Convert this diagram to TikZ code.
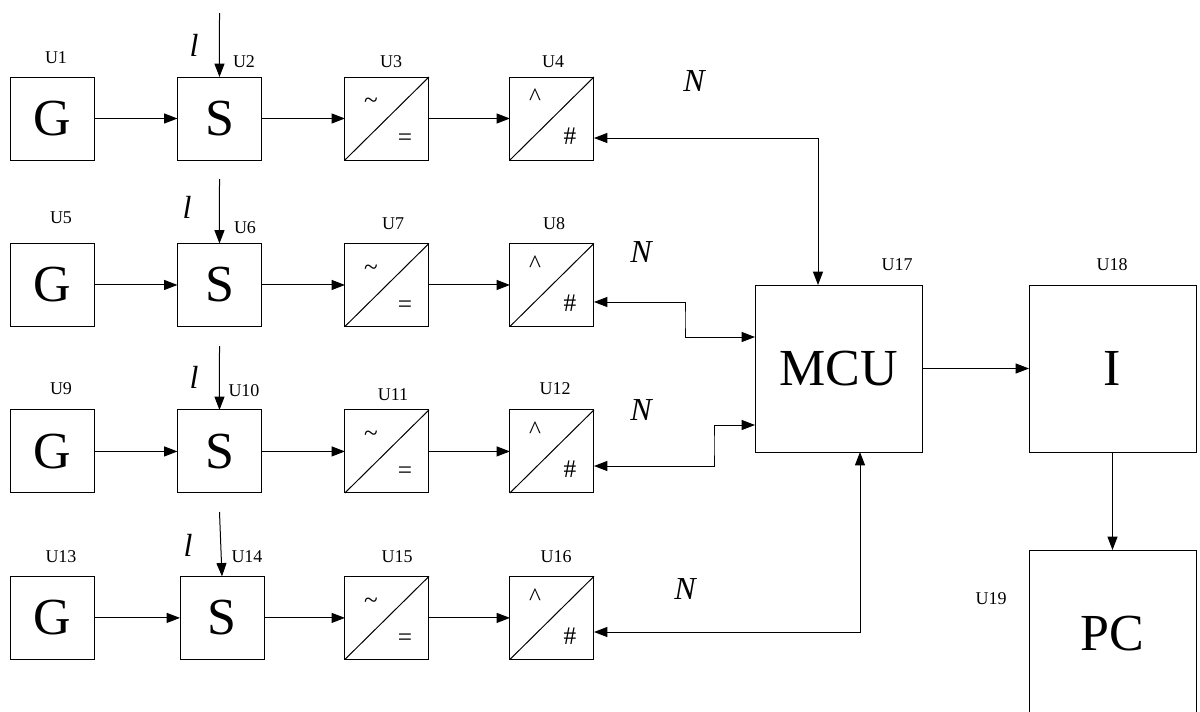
\documentclass[tikz,border=0pt]{standalone}
\usepackage{fontspec}
\setmainfont{Liberation Serif}
\usetikzlibrary{positioning, arrows.meta}

\tikzset{
  blockbox/.style={draw, inner sep=0pt, outer sep=0pt, minimum width=63pt, minimum height=62.25pt, font=\fontsize{39}{39}\selectfont},
  bigbox/.style={draw, inner sep=0pt, outer sep=0pt, minimum width=125.25pt, minimum height=125.25pt, font=\fontsize{39}{39}\selectfont},
  tagtext/.style={inner sep=0pt, font=\fontsize{13.5}{14}\selectfont},
  symtext/.style={inner sep=0pt, font=\fontsize{19}{20}\selectfont},
  vartext/.style={inner sep=0pt, font=\fontsize{24}{24}\selectfont\itshape},
}

\begin{document}
\begin{tikzpicture}[x=0.75pt, y=-0.75pt, line width=0.75pt, node distance=62.6pt,
    >={Triangle[length=10pt,width=7.5pt]}]
    \path[use as bounding box, clip] (0,0) rectangle (1200,711);

   \node[blockbox] (g1) at (52,118.5) {G};
    \node[blockbox, right = of g1] (s1) {S};
    \node[blockbox, right = of s1] (c1) {};
    \node[blockbox, right = 60.75pt of c1] (d1) {};

    \node[blockbox, below = of g1] (g2) {G};
    \node[blockbox, below = of s1] (s2) {S};
    \node[blockbox, below = of c1] (c2) {};
    \node[blockbox, below = of d1] (d2) {};

    \node[blockbox, below = of g2] (g3) {G};
    \node[blockbox, below = of s2] (s3) {S};
    \node[blockbox, below = of c2] (c3) {};
    \node[blockbox, below = of d2] (d3) {};

    \node[blockbox, below = of g3] (g4) {G};
    \node[blockbox, right = 64.5pt of g4] (s4) {S};
    \node[blockbox, below = of c3] (c4) {};
    \node[blockbox, below = of d3] (d4) {};

    \node[bigbox] (mcu) at (838.5,368.5) {MCU};
    \node[bigbox, right = 80.25pt of mcu] (i) {I};
    \node[bigbox, below = 73.5pt of i] (pc) {PC};

    % converter boxes
    \draw (c1.south west) -- (c1.north east);
    \draw (d1.south west) -- (d1.north east);
    \draw (c2.south west) -- (c2.north east);
    \draw (d2.south west) -- (d2.north east);
    \draw (c3.south west) -- (c3.north east);
    \draw (d3.south west) -- (d3.north east);
    \draw (c4.south west) -- (c4.north east);
    \draw (d4.south west) -- (d4.north east);

    \node[symtext] (t1) at (371,103) {\textasciitilde};
    \node[symtext] (e1) at (405,140) {=};
    \node[symtext] (h1) at (535,97) {\textasciicircum};
    \node[symtext] (n1) at (570,136) {\#};
    \node[symtext] (t2) at (371,270) {\textasciitilde};
    \node[symtext] (e2) at (405,307) {=};
    \node[symtext] (h2) at (535,264) {\textasciicircum};
    \node[symtext] (n2) at (570,303) {\#};
    \node[symtext] (t3) at (371,436) {\textasciitilde};
    \node[symtext] (e3) at (405,473) {=};
    \node[symtext] (h3) at (535,430) {\textasciicircum};
    \node[symtext] (n3) at (570,469) {\#};
    \node[symtext] (t4) at (371,603) {\textasciitilde};
    \node[symtext] (e4) at (405,640) {=};
    \node[symtext] (h4) at (535,597) {\textasciicircum};
    \node[symtext] (n4) at (570,636) {\#};

    \node[tagtext] (u1) at (56,58) {U1};
    \node[tagtext] (u2) at (244,62) {U2};
    \node[tagtext] (u3) at (391,62) {U3};
    \node[tagtext] (u4) at (553,62) {U4};
    \node[tagtext] (u5) at (61,218) {U5};
    \node[tagtext] (u6) at (245,228) {U6};
    \node[tagtext] (u7) at (393,224) {U7};
    \node[tagtext] (u8) at (554,224) {U8};
    \node[tagtext] (u9) at (61,389) {U9};
    \node[tagtext] (u10) at (244,391) {U10};
    \node[tagtext] (u11) at (393,395) {U11};
    \node[tagtext] (u12) at (555,389) {U12};
    \node[tagtext] (u13) at (61,557) {U13};
    \node[tagtext] (u14) at (247,557) {U14};
    \node[tagtext] (u15) at (397,557) {U15};
    \node[tagtext] (u16) at (556,557) {U16};
    \node[tagtext] (u17) at (897,265) {U17};
    \node[tagtext] (u18) at (1112,265) {U18};
    \node[tagtext] (u19) at (991,599) {U19};

    \node[vartext] (l1) at (194,45) {l};
    \node[vartext] (l2) at (187,207) {l};
    \node[vartext] (l3) at (194,377) {l};
    \node[vartext] (l4) at (188,545) {l};
    \node[vartext] (v1) at (694,81) {N};
    \node[vartext] (v2) at (641,252) {N};
    \node[vartext] (v3) at (641,410) {N};
    \node[vartext] (v4) at (685,589) {N};

    \coordinate (in1) at (219.5,13);
    \coordinate (in2) at (219.5,179);
    \coordinate (in3) at (219.5,346);
    \coordinate (in4) at (219.5,512);

    \path (in1) edge[->] (s1);
    \path (in2) edge[->] (s2);
    \path (in3) edge[->] (s3);
    \path (in4) edge[->] (s4.north);

    \path (g1) edge[->] (s1);
    \path (s1) edge[->] (c1);
    \path (c1) edge[->] (d1);
    \path (g2) edge[->] (s2);
    \path (s2) edge[->] (c2);
    \path (c2) edge[->] (d2);
    \path (g3) edge[->] (s3);
    \path (s3) edge[->] (c3);
    \path (c3) edge[->] (d3);
    \path (g4) edge[->] (s4);
    \path (s4) edge[->] (c4);
    \path (c4) edge[->] (d4);

    \coordinate (p1) at (594,138);
    \coordinate (m1) at (818,285);
    \coordinate (p2) at (594,302);
    \coordinate (j2) at (685,320);
    \coordinate (m2) at (755,337);
    \coordinate (p3) at (594,466);
    \coordinate (j3) at (714,445);
    \coordinate (m3) at (755,425);
    \coordinate (p4) at (594,632);
    \coordinate (m4) at (860,452);

    \draw[<->] (p1) -| (m1);
    \draw[<->] (p2) -| (j2) |- (m2);
    \draw[<->] (p3) -| (j3) |- (m3);
    \draw[<->] (p4) -| (m4);

    \path (mcu) edge[->] (i);
    \path (i) edge[->] (pc);

\end{tikzpicture}
\end{document}
